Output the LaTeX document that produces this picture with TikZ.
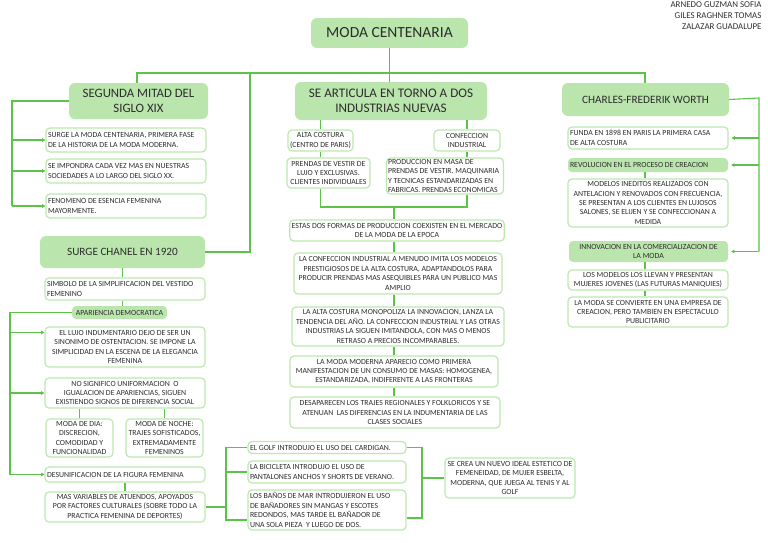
\documentclass[tikz,border=0pt]{standalone}
\usepackage{fontspec}
\setmainfont{Carlito}
\usetikzlibrary{arrows.meta}
\frenchspacing
\definecolor{mapG}{RGB}{92,194,72}
\definecolor{hdrG}{RGB}{186,229,172}
\definecolor{edgeG}{RGB}{188,232,176}
\definecolor{txtK}{RGB}{45,45,45}
\tikzset{
  link/.style={mapG, line width=1.1pt},
  linkarr/.style={link, -{Triangle[length=3.2pt,width=3.6pt]}},
  head/.style={fill=hdrG, rounded corners=6pt, text=txtK, align=flush center, inner sep=2pt},
  tag/.style={fill=hdrG, rounded corners=4pt, text=txtK, font=\fontsize{7.8}{9.4}\selectfont, inner xsep=2pt, inner ysep=1pt},
  note/.style={draw=edgeG, line width=1.2pt, fill=white, rounded corners=4pt, text=txtK, font=\fontsize{7.8}{9.4}\selectfont, inner xsep=2pt, inner ysep=1pt},
}

\begin{document}
\begin{tikzpicture}[x=1pt, y=-1pt]
\useasboundingbox (0,0) rectangle (768,543);
% title and authors
\node[head, font=\fontsize{15.5}{18}\selectfont, minimum width=157, minimum height=30] (title) at (389.5,33) {MODA CENTENARIA};
\node[font=\fontsize{8.9}{11}\selectfont, text=txtK, align=flush right, anchor=east] (authors) at (765,16) {ARNEDO GUZMAN SOFIA\\GILES RAGHNER TOMAS\\ZALAZAR GUADALUPE};

% left column: segunda mitad del siglo xix
\node[head, font=\fontsize{12.8}{15}\selectfont, minimum width=139, minimum height=36] (segunda) at (138.5,101) {SEGUNDA MITAD DEL\\SIGLO XIX};
\node[note, align=flush left, text width=156, minimum width=160, minimum height=24] (surge) at (126,140) {SURGE LA MODA CENTENARIA, PRIMERA FASE\\DE LA HISTORIA DE LA MODA MODERNA.};
\node[note, align=flush left, text width=156, minimum width=160, minimum height=24] (impondra) at (126,171) {SE IMPONDRA CADA VEZ MAS EN NUESTRAS\\SOCIEDADES A LO LARGO DEL SIGLO XX.};
\node[note, align=flush left, text width=156, minimum width=160, minimum height=24] (fenomeno) at (126,206) {FENOMENO DE ESENCIA FEMENINA\\MAYORMENTE.};

% left column: chanel
\node[head, font=\fontsize{11.2}{13}\selectfont, minimum width=165, minimum height=32] (chanel) at (122.5,252) {SURGE CHANEL EN 1920};
\node[note, align=flush left, text width=156, minimum width=160, minimum height=22] (simbolo) at (125,289) {SIMBOLO DE LA SIMPLIFICACION DEL VESTIDO\\FEMENINO};
\node[tag, minimum width=95, minimum height=13] (apariencia) at (119.5,312.5) {APARIENCIA DEMOCRATICA};
\node[note, align=flush center, minimum width=160, minimum height=40] (lujo) at (125,347) {EL LUJO INDUMENTARIO DEJO DE SER UN\\SINONIMO DE OSTENTACION. SE IMPONE LA\\SIMPLICIDAD EN LA ESCENA DE LA ELEGANCIA\\FEMENINA};
\node[note, align=flush center, minimum width=160, minimum height=30] (nosignif) at (125,393) {NO SIGNIFICO UNIFORMACION\ \ O\\IGUALACION DE APARIENCIAS, SIGUEN\\EXISTIENDO SIGNOS DE DIFERENCIA SOCIAL};
\node[note, align=flush center, minimum width=67, minimum height=38] (dia) at (79.5,438) {MODA DE DIA:\\DISCRECION,\\COMODIDAD Y\\FUNCIONALIDAD};
\node[note, align=flush center, minimum width=77, minimum height=38] (noche) at (164.5,438) {MODA DE NOCHE:\\TRAJES SOFISTICADOS,\\EXTREMADAMENTE\\FEMENINOS};
\node[note, align=flush left, text width=156, minimum width=160, minimum height=15] (desunif) at (125,474.5) {DESUNIFICACION DE LA FIGURA FEMENINA};
\node[note, align=flush center, minimum width=160, minimum height=30] (variables) at (125,507) {MAS VARIABLES DE ATUENDOS, APOYADOS\\POR FACTORES CULTURALES (SOBRE TODO LA\\PRACTICA FEMENINA DE DEPORTES)};

% sports
\node[note, align=flush left, text width=154, minimum width=158, minimum height=12] (golf) at (327,447.5) {EL GOLF INTRODUJO EL USO DEL CARDIGAN.};
\node[note, align=flush left, text width=154, minimum width=158, minimum height=22] (bici) at (327,472) {LA BICICLETA INTRODUJO EL USO DE\\PANTALONES ANCHOS Y SHORTS DE VERANO.};
\node[note, align=flush left, text width=154, minimum width=158, minimum height=40] (banos) at (327,510) {LOS BAÑOS DE MAR INTRODUJERON EL USO\\DE BAÑADORES SIN MANGAS Y ESCOTES\\REDONDOS, MAS TARDE EL BAÑADOR DE\\UNA SOLA PIEZA\ \ Y LUEGO DE DOS.};
\node[note, align=flush center, minimum width=130, minimum height=40] (secrea) at (510,478) {SE CREA UN NUEVO IDEAL ESTETICO DE\\FEMENEIDAD, DE MUJER ESBELTA,\\MODERNA, QUE JUEGA AL TENIS Y AL\\GOLF};

% middle column
\node[head, font=\fontsize{13.1}{15}\selectfont, minimum width=192, minimum height=38] (articula) at (391,101) {SE ARTICULA EN TORNO A DOS\\INDUSTRIAS NUEVAS};
\node[note, align=flush center, minimum width=65, minimum height=21] (alta) at (320.5,140.5) {ALTA COSTURA\\(CENTRO DE PARIS)};
\node[note, align=flush center, minimum width=66, minimum height=21] (confec) at (467,140.5) {CONFECCION\\INDUSTRIAL};
\node[note, align=flush center, minimum width=83, minimum height=30] (prendas) at (328.5,173) {PRENDAS DE VESTIR DE\\LUJO Y EXCLUSIVAS.\\CLIENTES INDIVIDUALES};
\node[note, align=flush left, inner xsep=1.5pt, text width=114, minimum width=117, minimum height=36] (produc) at (445,176) {PRODUCCION EN MASA DE\\PRENDAS DE VESTIR. MAQUINARIA\\Y TECNICAS ESTANDARIZADAS EN\\FABRICAS. PRENDAS ECONOMICAS};
\node[note, align=flush center, minimum width=214, minimum height=21] (estas) at (397,230.5) {ESTAS DOS FORMAS DE PRODUCCION COEXISTEN EN EL MERCADO\\DE LA MODA DE LA EPOCA};
\node[note, align=flush center, minimum width=208, minimum height=41] (confind) at (398,273.5) {LA CONFECCION INDUSTRIAL A MENUDO IMITA LOS MODELOS\\PRESTIGIOSOS DE LA ALTA COSTURA, ADAPTANDOLOS PARA\\PRODUCIR PRENDAS MAS ASEQUIBLES PARA UN PUBLICO MAS\\AMPLIO};
\node[note, align=flush center, minimum width=212, minimum height=39] (altacost) at (398,326.5) {LA ALTA COSTURA MONOPOLIZA LA INNOVACION, LANZA LA\\TENDENCIA DEL AÑO. LA CONFECCION INDUSTRIAL Y LAS OTRAS\\INDUSTRIAS LA SIGUEN IMITANDOLA, CON MAS O MENOS\\RETRASO A PRECIOS INCOMPARABLES.};
\node[note, align=flush center, minimum width=208, minimum height=31] (modamod) at (394,371.5) {LA MODA MODERNA APARECIO COMO PRIMERA\\MANIFESTACION DE UN CONSUMO DE MASAS: HOMOGENEA,\\ESTANDARIZADA, INDIFERENTE A LAS FRONTERAS};
\node[note, align=flush center, minimum width=210, minimum height=31] (desapar) at (395,412.5) {DESAPARECEN LOS TRAJES REGIONALES Y FOLKLORICOS Y SE\\ATENUAN\ \ LAS DIFERENCIAS EN LA INDUMENTARIA DE LAS\\CLASES SOCIALES};

% right column: worth
\node[head, font=\fontsize{11.25}{13}\selectfont, minimum width=167, minimum height=33] (worth) at (645.5,99.5) {CHARLES-FREDERIK WORTH};
\node[note, align=flush left, text width=156, minimum width=160, minimum height=22] (funda) at (648,138) {FUNDA EN 1898 EN PARIS LA PRIMERA CASA\\DE ALTA COSTURA};
\node[tag, align=flush left, text width=156, minimum width=160, minimum height=14] (revolucion) at (648,165) {REVOLUCION EN EL PROCESO DE CREACION};
\node[note, align=flush center, minimum width=160, minimum height=48] (modelos) at (648,203) {MODELOS INEDITOS REALIZADOS CON\\ANTELACION Y RENOVADOS CON FRECUENCIA,\\SE PRESENTAN A LOS CLIENTES EN LUJOSOS\\SALONES, SE ELIJEN Y SE CONFECCIONAN A\\MEDIDA};
\node[tag, align=flush center, minimum width=159, minimum height=21] (innovacion) at (648.5,251.5) {INNOVACION EN LA COMERCIALIZACION DE\\LA MODA};
\node[note, align=flush center, minimum width=160, minimum height=20] (llevan) at (648,280) {LOS MODELOS LOS LLEVAN Y PRESENTAN\\MUJERES JOVENES (LAS FUTURAS MANIQUIES)};
\node[note, align=flush center, minimum width=160, minimum height=30] (empresa) at (648,312) {LA MODA SE CONVIERTE EN UNA EMPRESA DE\\CREACION, PERO TAMBIEN EN ESPECTACULO\\PUBLICITARIO};

% trunk
\coordinate (trunkL) at (137,73);
\coordinate (trunkR) at (645,73);
\coordinate (trunkC) at (250,73);
\draw[link] (title.south) -- (title.south |- articula.north);
\draw[link] (segunda.north -| trunkL) -- (trunkL) -- (trunkR) -- (worth.north -| trunkR);
\draw[link] (chanel.east) -| (trunkC);

% segunda bracket
\coordinate (segL) at (12,101);
\draw[link] (segunda.west) -- (segL) -- (segL |- fenomeno.west);
\foreach \n in {surge, impondra, fenomeno}
  \draw[linkarr] (segL |- \n.west) -- (\n.west);

% chanel chain and its bracket
\draw[link] (chanel.south) -- (chanel.south |- simbolo.north);
\draw[link] (chanel.south |- simbolo.south) -- (chanel.south |- apariencia.north);
\coordinate (apL) at (10,312.5);
\coordinate (lujoIn) at ([yshift=-6pt]lujo.north west);
\draw[link] (apariencia.west) -- (apL) -- (apL |- desunif.west);
\draw[linkarr] (apL |- lujoIn) -- (lujoIn);
\draw[linkarr] (apL |- nosignif.west) -- (nosignif.west);
\draw[linkarr] (apL |- desunif.west) -- (desunif.west);
\draw[link] (dia.north) -- (dia.north |- nosignif.south);
\draw[link] (noche.north) -- (noche.north |- nosignif.south);
\draw[link] (desunif.south) -- (desunif.south |- variables.north);

% sports brackets
\coordinate (spL) at (226,507);
\coordinate (spR) at (422,478);
\coordinate (banosIn) at ([yshift=-10pt]banos.west);
\coordinate (banosOut) at ([yshift=-8pt]banos.east);
\draw[link] (variables.east) -- (spL);
\draw[link] (golf.west) -| (spL |- banosIn) -- (banosIn);
\draw[link] (spL |- bici.west) -- (bici.west);
\draw[link] (golf.east) -| (spR |- banosOut) -- (banosOut);
\draw[link] (spR |- secrea.west) -- (secrea.west);

% middle column links
\coordinate (mid) at (394,207);
\draw[link] (articula.south -| alta.north) -- (alta.north);
\draw[link] (articula.south -| confec.north) -- (confec.north);
\draw[link] (alta.south) -- (alta.south |- prendas.north);
\draw[link] (confec.south) -- (confec.south |- produc.north);
\draw[link] (alta.south |- prendas.south) -- (alta.south |- mid) -- (confec.south |- mid) -- (confec.south |- produc.south);
\draw[link] (mid) -- (mid |- estas.north);
\foreach \a/\b in {estas/confind, confind/altacost, altacost/modamod, modamod/desapar}
  \draw[link] (mid |- \a.south) -- (mid |- \b.north);

% worth bracket
\coordinate (wR) at (759,98);
\draw[link] (worth.east) -- (wR) -- (wR |- innovacion.east);
\foreach \n in {funda, revolucion, innovacion}
  \draw[linkarr] (wR |- \n.east) -- ([xshift=3pt]\n.east);
\draw[link] (revolucion.south -| trunkR) -- (modelos.north -| trunkR);
\draw[link] (innovacion.south -| trunkR) -- (llevan.north -| trunkR);
\draw[link] (llevan.south -| trunkR) -- (empresa.north -| trunkR);
\end{tikzpicture}
\end{document}
